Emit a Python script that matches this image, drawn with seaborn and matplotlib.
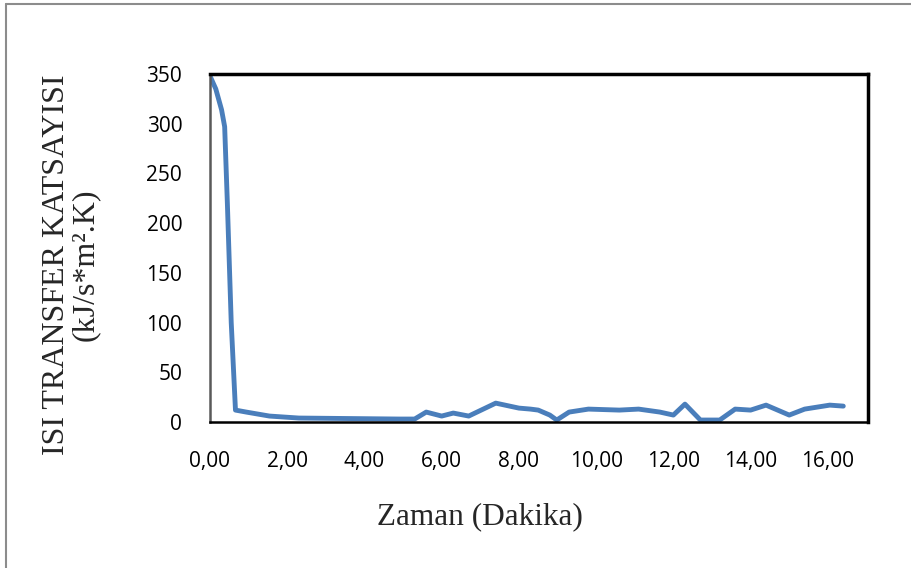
import matplotlib
matplotlib.use("Agg")
import matplotlib.pyplot as plt
import seaborn as sns
import pandas as pd
from matplotlib.lines import Line2D

# Data (time in minutes, heat transfer coefficient)
zaman = [0.0, 0.15, 0.30, 0.38, 0.45, 0.55, 0.66, 0.94, 1.54, 2.3, 3.6, 4.9, 5.3,
         5.6, 6.0, 6.3, 6.7, 7.4, 8.0, 8.3, 8.5, 8.8, 8.98, 9.3, 9.8, 10.6,
         11.1, 11.65, 12.0, 12.3, 12.7, 13.2, 13.6, 14.0, 14.4, 15.0, 15.4,
         16.05, 16.4]
isi = [348, 335, 314, 297, 220, 100, 12, 10, 6, 4, 3.5, 3, 3,
       10, 6, 9, 6, 19, 14, 13, 12, 7, 2, 10, 13, 12,
       13, 10, 7, 18, 2, 2, 13, 12, 17, 7, 13,
       17, 16]
x_ticks = [0, 2, 4, 6, 8, 10, 12, 14, 16]
x_tick_labels = ["0,00", "2,00", "4,00", "6,00", "8,00", "10,00", "12,00", "14,00", "16,00"]
y_ticks = [0, 50, 100, 150, 200, 250, 300, 350]

df = pd.DataFrame({"Zaman": zaman, "ISI": isi})

sns.set_style("white")
plt.rcParams['font.family'] = ['Open Sans', 'DejaVu Sans']

fig = plt.figure(figsize=(9.11, 5.68), dpi=100)
ax = fig.add_axes([0.2305, 0.2570, 0.7223, 0.6127])

sns.lineplot(data=df, x="Zaman", y="ISI", ax=ax, color="#4a7ebb", linewidth=3.5,
             sort=False)

ax.set_xlim(0, 17.04)
ax.set_ylim(0, 350)
ax.set_xticks(x_ticks)
ax.set_xticklabels(x_tick_labels)
ax.set_yticks(y_ticks)
ax.tick_params(axis="both", labelsize=15, colors="#7f7f7f", length=6, width=1.5,
               direction="out", labelcolor="black")
ax.tick_params(axis="y", pad=14)
ax.tick_params(axis="x", pad=15)

for s in ["top", "right"]:
    ax.spines[s].set_color("black")
    ax.spines[s].set_linewidth(2.5)
ax.spines["left"].set_color("#595959")
ax.spines["left"].set_linewidth(1.8)
ax.spines["bottom"].set_color("black")
ax.spines["bottom"].set_linewidth(1.8)

ax.set_xlabel("")
ax.set_ylabel("")
fig.text(480 / 911, 1 - 517 / 568, "Zaman (Dakika)", family="Liberation Serif",
         fontsize=22.5, ha="center", va="center")
fig.text(71 / 911, 1 - 265 / 568, "ISI TRANSFER KATSAYISI\n(kJ/s*m².K)",
         family="Liberation Serif", fontsize=23, ha="center", va="center",
         rotation=90, linespacing=1.0, multialignment="center")

fig.add_artist(Line2D([6 / 911, 1.0], [1 - 4 / 568, 1 - 4 / 568], transform=fig.transFigure,
                      color="#8c8c8c", linewidth=1.5))
fig.add_artist(Line2D([6 / 911, 6 / 911], [1 - 4 / 568, 0.0], transform=fig.transFigure,
                      color="#8c8c8c", linewidth=1.5))

fig.savefig("out.png", dpi=100)
